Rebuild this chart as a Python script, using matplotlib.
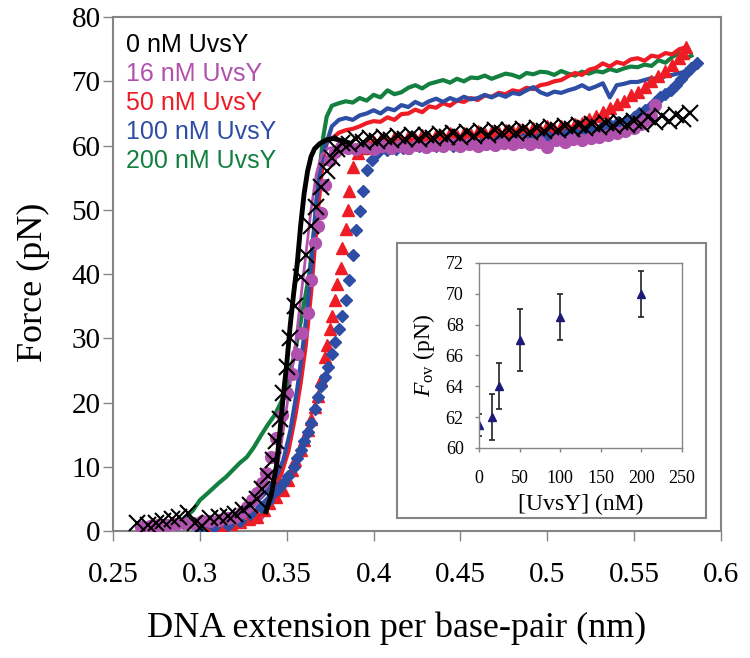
"""
Force-extension curves of DNA with UvsY, with overstretching force inset
"""
import matplotlib
matplotlib.use('Agg')
import matplotlib.pyplot as plt
from matplotlib.patches import Rectangle

# stretch curves (lines)
green_x = [0.291, 0.296, 0.300, 0.305, 0.311, 0.315, 0.319, 0.323, 0.327, 0.331, 0.335, 0.339, 0.343, 0.347,
           0.351, 0.354, 0.357, 0.360, 0.363, 0.365, 0.367, 0.369, 0.371, 0.373, 0.376, 0.380, 0.384, 0.388,
           0.392, 0.396, 0.400, 0.404, 0.408, 0.412, 0.416, 0.420, 0.424, 0.428, 0.432, 0.436, 0.440, 0.444,
           0.448, 0.452, 0.456, 0.460, 0.464, 0.468, 0.472, 0.476, 0.480, 0.484, 0.488, 0.492, 0.496, 0.500,
           0.504, 0.508, 0.512, 0.516, 0.520, 0.524, 0.528, 0.532, 0.536, 0.540, 0.544, 0.548, 0.552, 0.556,
           0.560, 0.564, 0.568, 0.572, 0.576, 0.580, 0.583]
green_y = [2.0, 3.2, 4.8, 6.0, 7.5, 8.4, 9.5, 10.6, 11.5, 13.0, 14.8, 16.5, 18.0, 20.2,
           23.5, 27.0, 31.0, 35.5, 40.0, 45.0, 51.0, 56.5, 61.3, 64.5, 66.2, 66.6, 66.9, 66.7,
           67.4, 67.0, 67.9, 67.5, 68.6, 68.0, 68.3, 69.0, 69.4, 68.9, 69.6, 69.9, 70.2, 69.8,
           70.4, 70.0, 70.6, 70.5, 70.9, 70.4, 70.8, 71.2, 71.0, 70.6, 71.3, 71.1, 71.5, 71.4,
           71.0, 71.6, 71.2, 70.9, 71.5, 71.2, 71.6, 71.4, 71.9, 71.6, 72.0, 72.3, 72.2, 72.6,
           72.4, 73.3, 72.9, 73.8, 74.4, 73.6, 74.0]

blue_x = [0.300, 0.310, 0.320, 0.330, 0.338, 0.344, 0.348, 0.352, 0.356, 0.359, 0.362, 0.365, 0.367, 0.369,
          0.371, 0.373, 0.376, 0.380, 0.384, 0.388, 0.392, 0.396, 0.400, 0.404, 0.408, 0.412, 0.416, 0.420,
          0.424, 0.428, 0.432, 0.436, 0.440, 0.444, 0.448, 0.452, 0.456, 0.460, 0.464, 0.468, 0.472, 0.476,
          0.480, 0.484, 0.488, 0.492, 0.496, 0.500, 0.504, 0.508, 0.512, 0.516, 0.520, 0.524, 0.528, 0.532,
          0.536, 0.540, 0.544, 0.548, 0.552, 0.556, 0.560, 0.564, 0.568, 0.572, 0.576, 0.580]
blue_y = [0.5, 1.2, 2.2, 3.8, 6.0, 8.5, 11.0, 15.5, 22.0, 28.0, 35.0, 44.0, 51.0, 56.0,
          59.0, 60.5, 63.0, 64.0, 64.3, 64.0, 64.7, 65.0, 65.5, 65.0, 65.8, 65.5, 66.3, 66.0,
          66.8, 66.3, 66.9, 67.3, 66.8, 67.4, 67.0, 67.6, 67.2, 67.4, 67.9, 67.5, 68.0, 67.6,
          68.2, 68.0, 68.6, 69.1, 68.3, 67.9, 68.4, 68.2, 68.6, 68.9, 69.4, 68.8, 69.2, 69.7,
          67.5, 69.4, 69.6, 69.9, 69.9, 70.2, 70.5, 70.3, 70.8, 71.0, 71.3, 71.5]

red_x = [0.305, 0.315, 0.325, 0.335, 0.342, 0.347, 0.351, 0.355, 0.358, 0.361, 0.364, 0.366, 0.368, 0.370,
         0.372, 0.374, 0.377, 0.380, 0.384, 0.388, 0.392, 0.396, 0.400, 0.404, 0.408, 0.412, 0.416, 0.420,
         0.424, 0.428, 0.432, 0.436, 0.440, 0.444, 0.448, 0.452, 0.456, 0.460, 0.464, 0.468, 0.472, 0.476,
         0.480, 0.484, 0.488, 0.492, 0.496, 0.500, 0.504, 0.508, 0.512, 0.516, 0.520, 0.524, 0.528, 0.532,
         0.536, 0.540, 0.544, 0.548, 0.552, 0.556, 0.560, 0.564, 0.568, 0.572, 0.576, 0.580]
red_y = [0.3, 1.0, 2.0, 3.6, 6.0, 9.0, 12.5, 18.0, 23.0, 29.0, 37.0, 43.7, 50.0, 55.5,
         59.5, 61.0, 61.3, 62.0, 62.4, 62.6, 63.0, 63.5, 63.8, 63.7, 64.4, 64.0, 64.9, 65.0,
         65.6, 65.2, 66.1, 65.9, 66.6, 66.2, 67.0, 66.8, 67.4, 67.1, 67.8, 67.6, 68.2, 68.0,
         68.6, 68.4, 69.0, 68.8, 69.4, 69.6, 70.0, 70.2, 70.8, 71.3, 71.0, 71.8, 72.1, 72.8,
         72.3, 73.0, 72.7, 73.4, 73.6, 73.2, 74.0, 73.8, 74.4, 74.2, 75.0, 75.3]

black_x = [0.338, 0.341, 0.344, 0.346, 0.348, 0.350, 0.352, 0.354, 0.356, 0.358, 0.360, 0.362, 0.364,
           0.366, 0.369, 0.373, 0.377, 0.381, 0.385]
black_y = [3.0, 5.5, 10.0, 15.2, 21.0, 26.0, 32.0, 37.0, 41.5, 47.5, 52.5, 56.0, 58.3,
           59.5, 60.3, 60.9, 61.1, 60.8, 60.5]

purple_x = [0.336, 0.340, 0.343, 0.346, 0.349, 0.352, 0.355, 0.358, 0.361, 0.364, 0.367, 0.370, 0.374,
            0.380, 0.390]
purple_y = [2.0, 4.0, 7.5, 12.0, 17.5, 23.0, 29.0, 36.0, 43.0, 50.0, 55.5, 58.5, 59.6,
            59.8, 59.6]

# release curves (markers)
bx_x = [0.264, 0.270, 0.275, 0.279, 0.284, 0.288, 0.293, 0.297, 0.301, 0.306, 0.311, 0.316, 0.320, 0.325,
        0.329, 0.333, 0.336, 0.339, 0.342, 0.344, 0.346, 0.348, 0.350, 0.352, 0.355, 0.358, 0.361, 0.364,
        0.367, 0.370, 0.373, 0.376, 0.379, 0.382, 0.386, 0.390, 0.394, 0.398, 0.402, 0.406, 0.410, 0.414,
        0.418, 0.422, 0.426, 0.430, 0.434, 0.438, 0.442, 0.446, 0.450, 0.454, 0.458, 0.462, 0.466, 0.470,
        0.474, 0.478, 0.482, 0.486, 0.490, 0.494, 0.498, 0.502, 0.506, 0.510, 0.514, 0.518, 0.522, 0.526,
        0.530, 0.534, 0.538, 0.542, 0.546, 0.550, 0.554, 0.558, 0.562, 0.566, 0.570, 0.574, 0.578, 0.582]
bx_y = [1.2, 1.0, 1.3, 1.5, 1.8, 2.2, 2.8, 1.2, 0.8, 2.0, 2.2, 2.4, 2.6, 3.3,
        4.0, 5.0, 6.5, 8.5, 11.0, 14.0, 17.5, 21.5, 25.5, 30.0, 35.0, 39.5, 43.0, 47.5,
        50.5, 53.5, 56.0, 58.0, 59.5, 60.4, 60.2, 61.0, 60.5, 61.2, 60.7, 61.4, 60.8, 61.5,
        61.0, 61.6, 61.1, 61.7, 61.2, 61.8, 61.3, 62.0, 61.4, 62.1, 61.5, 62.2, 61.7, 62.4,
        61.9, 62.5, 62.0, 62.6, 62.1, 62.8, 62.3, 62.9, 62.4, 63.0, 62.6, 63.2, 62.8, 63.4,
        62.9, 63.5, 63.0, 63.6, 63.2, 63.8, 63.4, 64.5, 63.6, 64.6, 63.8, 64.8, 64.2, 65.0]

pc_x = [0.266, 0.271, 0.276, 0.281, 0.286, 0.291, 0.296, 0.301, 0.306, 0.311, 0.316, 0.320, 0.324, 0.327,
        0.330, 0.333, 0.336, 0.338, 0.341, 0.344, 0.347, 0.350, 0.353, 0.356, 0.359, 0.362, 0.364, 0.366,
        0.368, 0.370, 0.372, 0.375, 0.378, 0.381, 0.385, 0.390, 0.395, 0.400, 0.405, 0.410, 0.415, 0.420,
        0.425, 0.430, 0.435, 0.440, 0.445, 0.450, 0.455, 0.460, 0.465, 0.470, 0.475, 0.480, 0.485, 0.490,
        0.495, 0.500, 0.505, 0.510, 0.515, 0.520, 0.525, 0.530, 0.535, 0.540, 0.545, 0.550, 0.554, 0.557,
        0.560, 0.562]
pc_y = [0.7, 0.8, 0.9, 1.0, 1.1, 1.2, 1.3, 1.5, 1.6, 1.7, 2.0, 2.2, 2.9, 3.7,
        4.8, 5.9, 7.5, 9.0, 11.5, 14.5, 18.0, 21.5, 24.5, 27.5, 30.8, 34.0, 39.0, 44.8,
        47.5, 49.5, 53.9, 57.7, 59.0, 59.8, 59.6, 59.4, 59.8, 59.5, 59.9, 59.6, 60.0, 59.7,
        60.1, 59.8, 60.1, 59.9, 60.2, 59.9, 60.3, 60.0, 60.3, 60.1, 60.4, 60.2, 60.5, 60.3,
        60.6, 59.8, 60.8, 60.6, 61.0, 60.8, 61.2, 61.3, 61.6, 62.0, 62.3, 62.8, 63.4, 64.0,
        64.6, 66.3]

rt_x = [0.300, 0.306, 0.312, 0.318, 0.323, 0.328, 0.333, 0.337, 0.340, 0.344, 0.348, 0.351, 0.353, 0.355,
        0.358, 0.360, 0.362, 0.364, 0.366, 0.368, 0.370, 0.372, 0.373, 0.375, 0.376, 0.378, 0.379, 0.381,
        0.382, 0.384, 0.385, 0.386, 0.388, 0.391, 0.394, 0.397, 0.400, 0.404, 0.408, 0.412, 0.416, 0.420,
        0.424, 0.428, 0.432, 0.436, 0.440, 0.444, 0.448, 0.452, 0.456, 0.460, 0.464, 0.468, 0.472, 0.476,
        0.480, 0.484, 0.488, 0.492, 0.496, 0.500, 0.504, 0.508, 0.512, 0.516, 0.520, 0.524, 0.528, 0.532,
        0.536, 0.540, 0.544, 0.548, 0.552, 0.556, 0.560, 0.564, 0.568, 0.572, 0.576, 0.578, 0.580]
rt_y = [0.3, 0.5, 0.8, 1.1, 1.4, 1.8, 2.2, 3.2, 4.3, 5.3, 6.4, 8.0, 9.5, 11.0,
        12.6, 14.2, 15.7, 17.5, 19.3, 21.0, 23.5, 27.1, 29.0, 31.5, 33.5, 36.0, 38.5, 41.0,
        44.0, 47.0, 50.0, 53.0, 56.7, 58.8, 59.6, 60.2, 60.5, 61.0, 60.7, 61.2, 60.9, 61.4,
        61.0, 61.6, 61.2, 61.7, 61.3, 61.9, 61.5, 62.0, 61.6, 62.2, 61.8, 62.3, 61.9, 62.5,
        62.1, 62.6, 62.3, 62.8, 62.4, 63.0, 62.6, 63.1, 62.8, 63.3, 63.5, 64.2, 64.6, 65.3,
        65.8, 66.5, 67.0, 67.8, 68.4, 69.1, 70.0, 70.8, 71.6, 72.6, 73.6, 74.4, 75.3]

bd_x = [0.300, 0.308, 0.316, 0.323, 0.329, 0.335, 0.339, 0.342, 0.345, 0.348, 0.351, 0.354, 0.356, 0.358,
        0.360, 0.362, 0.364, 0.366, 0.368, 0.370, 0.372, 0.374, 0.376, 0.378, 0.380, 0.382, 0.384, 0.386,
        0.388, 0.390, 0.392, 0.394, 0.396, 0.399, 0.402, 0.408, 0.413, 0.417, 0.421, 0.426, 0.431, 0.436,
        0.441, 0.446, 0.451, 0.456, 0.461, 0.466, 0.471, 0.476, 0.481, 0.486, 0.491, 0.496, 0.501, 0.506,
        0.511, 0.516, 0.521, 0.526, 0.531, 0.536, 0.541, 0.546, 0.550, 0.553, 0.556, 0.559, 0.562, 0.565,
        0.568, 0.571, 0.574, 0.577, 0.580, 0.583, 0.586]
bd_y = [0.2, 0.6, 1.0, 1.6, 2.6, 3.7, 4.6, 5.9, 6.6, 7.5, 8.6, 10.0, 11.3, 12.6,
        14.0, 15.4, 16.8, 19.0, 20.8, 22.5, 24.0, 25.5, 27.5, 29.5, 31.5, 33.5, 36.0, 39.0,
        43.0, 46.8, 49.8, 53.0, 56.2, 57.7, 58.8, 59.3, 59.4, 59.6, 59.7, 59.9, 59.8, 60.0,
        60.1, 60.0, 60.3, 60.4, 60.3, 60.6, 60.7, 60.6, 60.9, 61.0, 61.0, 61.3, 61.4, 61.5,
        61.8, 62.0, 62.2, 62.5, 62.8, 63.2, 63.6, 64.0, 64.4, 65.0, 65.5, 66.0, 66.8, 67.5,
        68.0, 68.6, 69.5, 70.3, 71.3, 72.0, 72.8]

# inset data
conc = [0, 16, 25, 50, 100, 200]
f_ov = [61.5, 62.0, 64.0, 67.0, 68.5, 70.0]
f_err = [0.7, 1.5, 1.5, 2.0, 1.5, 1.5]

legend_labels = ['0 nM UvsY', '16 nM UvsY', '50 nM UvsY', '100 nM UvsY', '200 nM UvsY']

BLACK = '#000000'
PURPLE = '#b052ad'
RED = '#ee1c25'
BLUE = '#2e4ea5'
GREEN = '#148040'
GREY = '#858585'
legend_colors = [BLACK, PURPLE, RED, BLUE, GREEN]

SERIF = 'Liberation Serif'
SANS = 'Liberation Sans'

plt.rcParams['mathtext.fontset'] = 'custom'
plt.rcParams['mathtext.rm'] = SERIF
plt.rcParams['mathtext.it'] = SERIF + ':italic'

fig = plt.figure(figsize=(7.5, 6.58), dpi=100)
ax = fig.add_axes([0.1507, 0.193, 0.8106, 0.781])

# stretch lines
ax.plot(green_x, green_y, color=GREEN, lw=3.0, zorder=2)
ax.plot(red_x, red_y, color=RED, lw=3.0, zorder=2)
ax.plot(blue_x, blue_y, color=BLUE, lw=3.0, zorder=2)
ax.plot(purple_x, purple_y, color=PURPLE, lw=2.0, zorder=2)

# release markers
ax.plot(rt_x, rt_y, ls='none', marker='^', ms=8.5, color=RED, mec=RED, zorder=3)
ax.plot(bd_x, bd_y, ls='none', marker='D', ms=6, color=BLUE, mec=BLUE, zorder=4)
ax.plot(pc_x, pc_y, ls='none', marker='o', ms=8.5, color=PURPLE, mec=PURPLE, zorder=5)
ax.plot(bx_x, bx_y, ls='none', marker='x', ms=11, mew=1.5, color=BLACK, zorder=6)
ax.plot(black_x, black_y, color=BLACK, lw=3.5, zorder=7)

ax.set_xlim(0.25, 0.6)
ax.set_ylim(0, 80)
ax.set_xticks([0.25, 0.3, 0.35, 0.4, 0.45, 0.5, 0.55, 0.6])
ax.set_xticklabels(['0.25', '0.3', '0.35', '0.4', '0.45', '0.5', '0.55', '0.6'])
ax.set_yticks(range(0, 81, 10))
for s in ax.spines.values():
    s.set_color(GREY)
    s.set_linewidth(1.5)
ax.tick_params(direction='out', length=7, width=1.0, color=GREY)
ax.tick_params(axis='x', pad=15)
ax.tick_params(axis='y', pad=2)
for lab in ax.get_xticklabels() + ax.get_yticklabels():
    lab.set_fontfamily(SERIF)
    lab.set_fontsize(21)
ax.set_xlabel('DNA extension per base-pair (nm)', fontfamily=SERIF, fontsize=26)
ax.set_ylabel('Force (pN)', fontfamily=SERIF, fontsize=26)
ax.xaxis.set_label_coords(0.467, -0.189)
ax.yaxis.set_label_coords(-0.1316, 0.484)
ax.xaxis.label.set_va('center')
ax.yaxis.label.set_va('center')

# legend text
for i, (lab, col) in enumerate(zip(legend_labels, legend_colors)):
    fig.text(126 / 750, 1 - (45 + 29 * i) / 658, lab, color=col, fontfamily=SANS,
             fontsize=18, va='center', ha='left')

# inset frame
frame = Rectangle((397 / 750, 1 - 518 / 658), 309 / 750, 275 / 658, transform=fig.transFigure,
                  facecolor='white', edgecolor=GREY, lw=1.5, zorder=2)
fig.add_artist(frame)

ins = fig.add_axes([479 / 750, 1 - 448 / 658, 203 / 750, 185 / 658])
ins.set_zorder(3)
ins.errorbar(conc, f_ov, yerr=f_err, fmt='^', ms=6, color='#1c1c78', ecolor='#222222',
             elinewidth=1.2, capsize=2.5, capthick=1.2)
ins.set_xlim(0, 250)
ins.set_ylim(60, 72)
ins.set_xticks(range(0, 251, 50))
ins.set_yticks(range(60, 73, 2))
for s in ins.spines.values():
    s.set_color(GREY)
    s.set_linewidth(1.0)
ins.tick_params(direction='out', length=3, width=1.0, color=GREY)
ins.tick_params(axis='x', pad=13)
ins.tick_params(axis='y', pad=8)
for lab in ins.get_xticklabels() + ins.get_yticklabels():
    lab.set_fontfamily(SERIF)
    lab.set_fontsize(13)
ins.set_xlabel('[UvsY] (nM)', fontfamily=SERIF, fontsize=17, labelpad=5)
ins.set_ylabel(r'$F_{\mathrm{ov}}$ (pN)', fontfamily=SERIF, fontsize=17, labelpad=6)

fig.savefig('out.png', dpi=100)
